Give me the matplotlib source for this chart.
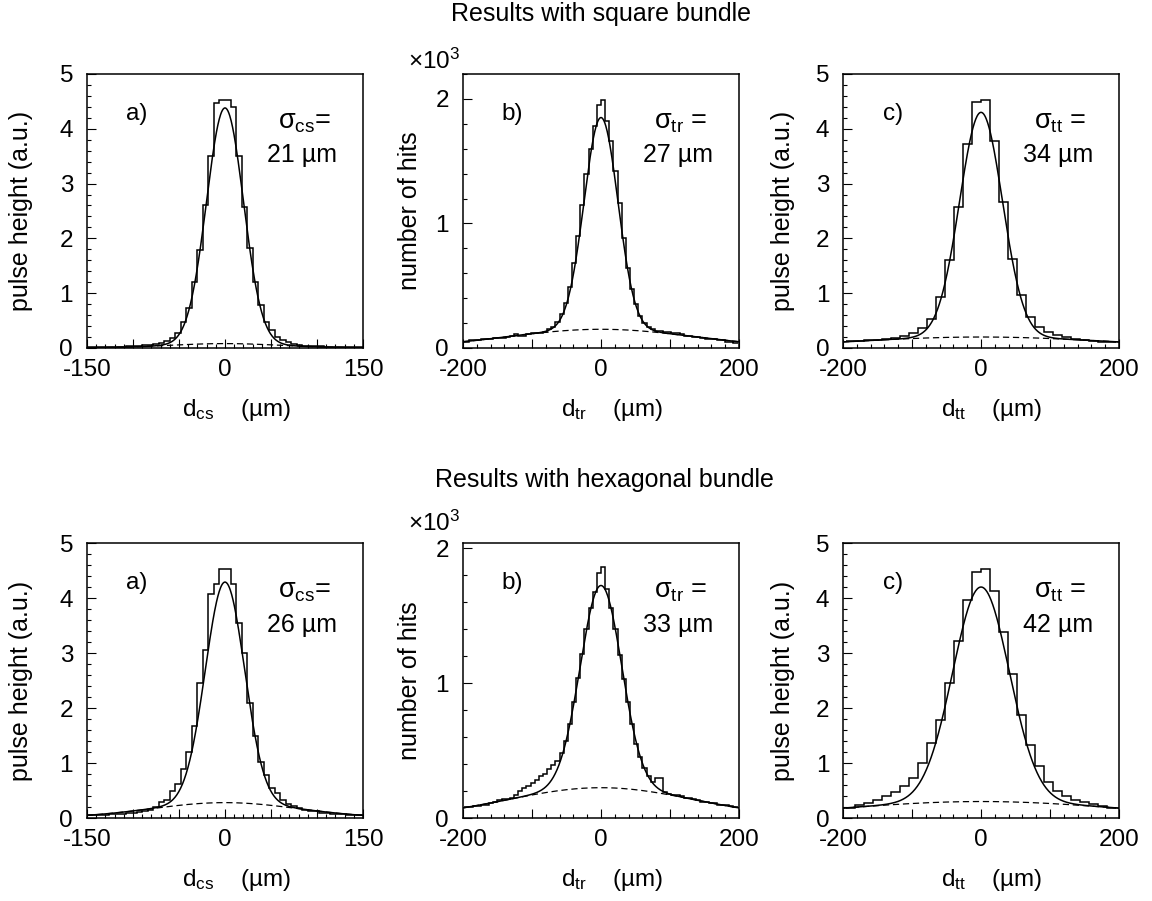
import matplotlib
matplotlib.use("Agg")
import matplotlib.pyplot as plt
import numpy as np
from matplotlib.ticker import FixedLocator, MultipleLocator, FixedFormatter

plt.rcParams["font.family"] = ["Liberation Sans", "DejaVu Sans"]
plt.rcParams["mathtext.fontset"] = "custom"
plt.rcParams["mathtext.rm"] = "Liberation Sans"
plt.rcParams["mathtext.it"] = "Liberation Sans"
plt.rcParams["mathtext.bf"] = "Liberation Sans:bold"

# ---- data ---------------------------------------------------------------
# histogram bin edges (um)
edges_cs = np.arange(-150, 151, 6)
edges_tr = np.arange(-198, 199, 6)
edges_tt = np.arange(-195, 196, 13)

# square bundle
sq_cs = [0.01, 0.01, 0.01, 0.01, 0.02, 0.02, 0.02, 0.03, 0.03, 0.04,
         0.05, 0.06, 0.07, 0.09, 0.13, 0.18, 0.28, 0.47, 0.73, 1.20,
         1.79, 2.60, 3.51, 4.47, 4.53, 4.53, 4.40, 3.50, 2.57, 1.82,
         1.20, 0.78, 0.48, 0.32, 0.20, 0.14, 0.10, 0.07, 0.05, 0.04,
         0.04, 0.03, 0.03, 0.02, 0.02, 0.02, 0.01, 0.01, 0.01, 0.01]
sq_tr = [0.05, 0.06, 0.06, 0.06, 0.07, 0.07, 0.07, 0.08, 0.08, 0.08,
         0.09, 0.10, 0.11, 0.10, 0.10, 0.11, 0.12, 0.12, 0.12, 0.13,
         0.15, 0.17, 0.21, 0.27, 0.36, 0.49, 0.68, 0.90, 1.15, 1.40,
         1.60, 1.78, 1.95, 1.99, 1.82, 1.66, 1.42, 1.16, 0.88, 0.64,
         0.47, 0.35, 0.26, 0.20, 0.17, 0.15, 0.14, 0.14, 0.13, 0.13,
         0.12, 0.12, 0.11, 0.10, 0.10, 0.09, 0.09, 0.08, 0.07, 0.07,
         0.07, 0.06, 0.06, 0.05, 0.05, 0.04]
sq_tt = [0.12, 0.13, 0.14, 0.15, 0.17, 0.19, 0.22, 0.27, 0.36, 0.53,
         0.93, 1.60, 2.57, 3.72, 4.48, 4.53, 3.78, 2.67, 1.62, 0.97,
         0.57, 0.38, 0.30, 0.24, 0.20, 0.17, 0.15, 0.13, 0.11, 0.10]

# hexagonal bundle
hx_cs = [0.05, 0.05, 0.06, 0.06, 0.07, 0.08, 0.08, 0.09, 0.10, 0.11,
         0.13, 0.15, 0.20, 0.30, 0.33, 0.50, 0.62, 0.90, 1.20, 1.68,
         2.45, 3.05, 4.07, 4.26, 4.53, 4.53, 4.25, 3.55, 3.00, 2.10,
         1.50, 1.02, 0.78, 0.55, 0.46, 0.32, 0.26, 0.22, 0.18, 0.15,
         0.13, 0.12, 0.10, 0.09, 0.08, 0.07, 0.07, 0.06, 0.06, 0.05]
hx_tr = [0.08, 0.08, 0.09, 0.09, 0.10, 0.10, 0.11, 0.12, 0.13, 0.14,
         0.14, 0.15, 0.17, 0.20, 0.22, 0.24, 0.26, 0.28, 0.31, 0.33,
         0.36, 0.39, 0.42, 0.48, 0.57, 0.70, 0.86, 1.04, 1.22, 1.40,
         1.56, 1.68, 1.82, 1.86, 1.70, 1.56, 1.40, 1.21, 1.03, 0.86,
         0.70, 0.55, 0.45, 0.37, 0.31, 0.27, 0.30, 0.30, 0.19, 0.18,
         0.17, 0.17, 0.16, 0.15, 0.15, 0.14, 0.13, 0.12, 0.12, 0.11,
         0.11, 0.10, 0.10, 0.10, 0.09, 0.08]
hx_tt = [0.19, 0.24, 0.28, 0.33, 0.40, 0.48, 0.58, 0.72, 1.00, 1.36,
         1.79, 2.45, 3.21, 3.97, 4.47, 4.53, 4.12, 3.39, 2.61, 1.88,
         1.33, 0.95, 0.66, 0.50, 0.40, 0.33, 0.29, 0.25, 0.22, 0.19]

# fit parameters: [peak amplitude, peak width, background height, background width]
fit_sq_cs = [4.30, 20.0, 0.08, 60.0]
fit_sq_tr = [1.70, 24.5, 0.15, 135.0]
fit_sq_tt = [4.10, 31.0, 0.20, 183.0]
fit_hx_cs = [4.01, 21.3, 0.28, 80.0]
fit_hx_tr = [1.50, 30.0, 0.225, 135.0]
fit_hx_tt = [3.90, 41.0, 0.30, 198.0]

sigma_labels_sq = ["21", "27", "34"]
sigma_labels_hx = ["26", "33", "42"]
coords = ["cs", "tr", "tt"]
equals = ["=", " =", " ="]
letters = ["a)", "b)", "c)"]


def background(x, p):
    return p[2] * np.exp(-x ** 2 / (2 * p[3] ** 2))


def fit_curve(x, p):
    return p[0] * np.exp(-x ** 2 / (2 * p[1] ** 2)) + background(x, p)


def style_axes(ax, xmax, ymax, xmids, xminor, hits):
    ax.set_xlim(-xmax, xmax)
    ax.set_ylim(0, ymax)
    xmaj = [-xmax] + [-m for m in xmids[::-1]] + [0] + xmids + [xmax]
    xlab = [f"-{xmax}"] + [""] * len(xmids) + ["0"] + [""] * len(xmids) + [f"{xmax}"]
    ax.xaxis.set_major_locator(FixedLocator(xmaj))
    ax.xaxis.set_major_formatter(FixedFormatter(xlab))
    ax.xaxis.set_minor_locator(MultipleLocator(xminor))
    yt = [0, 1, 2] if hits else [0, 1, 2, 3, 4, 5]
    ax.yaxis.set_major_locator(FixedLocator(yt))
    ax.yaxis.set_major_formatter(FixedFormatter([str(v) for v in yt]))
    ax.yaxis.set_minor_locator(MultipleLocator(0.2))
    ax.tick_params(which="both", direction="in", top=False, right=False,
                   width=0.8, labelsize=17.5)
    ax.tick_params(axis="x", which="both", pad=8)
    ax.tick_params(axis="y", which="both", pad=10)
    ax.tick_params(which="major", length=6.5)
    ax.tick_params(which="minor", length=3.2)
    for s in ax.spines.values():
        s.set_linewidth(1.1)


def draw_panel(ax, edges, vals, fit, xmax, i, sig, hits, xten_y, ylab_x):
    x = np.linspace(-xmax, xmax, 600)
    ax.stairs(vals, edges, baseline=None, color="black", lw=1.1)
    ax.plot(x, fit_curve(x, fit), color="black", lw=1.1)
    ax.plot(x, background(x, fit), color="black", lw=0.9, dashes=(5, 3))
    ax.text(0.18, 0.855, letters[i], transform=ax.transAxes, fontsize=17.5,
            ha="center", va="center")
    ax.text(0.787, 0.825, r"$\sigma_{%s}$%s" % (coords[i], equals[i]),
            transform=ax.transAxes, fontsize=19.5, ha="center", va="center")
    ax.text(0.78, 0.703, sig + " µm", transform=ax.transAxes, fontsize=18,
            ha="center", va="center")
    ax.text(0.54, -0.226, r"$\mathregular{d_{%s}}$    (µm)" % coords[i],
            transform=ax.transAxes, fontsize=17.5, ha="center", va="center")
    if hits:
        ax.text(-0.105, xten_y, r"$\mathregular{\times10^3}$", transform=ax.transAxes,
                fontsize=17.5, ha="center", va="center")
        ax.set_ylabel("number of hits", fontsize=18)
    else:
        ax.set_ylabel("pulse height (a.u.)", fontsize=18)
    ax.yaxis.set_label_coords(ylab_x, 0.5)


fig = plt.figure(figsize=(11.52, 9.01), dpi=100)
lefts = [0.0755, 0.4019, 0.7318]
w = 0.2396
ylab_xs = [-0.196, -0.149, -0.174]

rows = [
    (0.6138, 0.3041, [sq_cs, sq_tr, sq_tt], [fit_sq_cs, fit_sq_tr, fit_sq_tt],
     sigma_labels_sq, 2.2, 1.045),
    (0.0921, 0.3052, [hx_cs, hx_tr, hx_tt], [fit_hx_cs, fit_hx_tr, fit_hx_tt],
     sigma_labels_hx, 2.04, 1.07),
]
all_edges = [edges_cs, edges_tr, edges_tt]
xmaxes = [150, 200, 200]
xmids = [[50, 100], [100], [100]]
xminors = [10, 20, 20]

for bottom, h, hists, fits, sigs, ymax_hits, xten_y in rows:
    for i in range(3):
        ax = fig.add_axes([lefts[i], bottom, w, h])
        hits = i == 1
        style_axes(ax, xmaxes[i], ymax_hits if hits else 5, xmids[i], xminors[i], hits)
        draw_panel(ax, all_edges[i], hists[i], fits[i], xmaxes[i], i, sigs[i], hits,
                   xten_y, ylab_xs[i])

fig.text(601 / 1152, 1 - 14 / 901, "Results with square bundle", fontsize=18,
         ha="center", va="center")
fig.text(604 / 1152, 1 - 480 / 901, "Results with hexagonal bundle", fontsize=18,
         ha="center", va="center")

fig.savefig("out.png", dpi=100)
